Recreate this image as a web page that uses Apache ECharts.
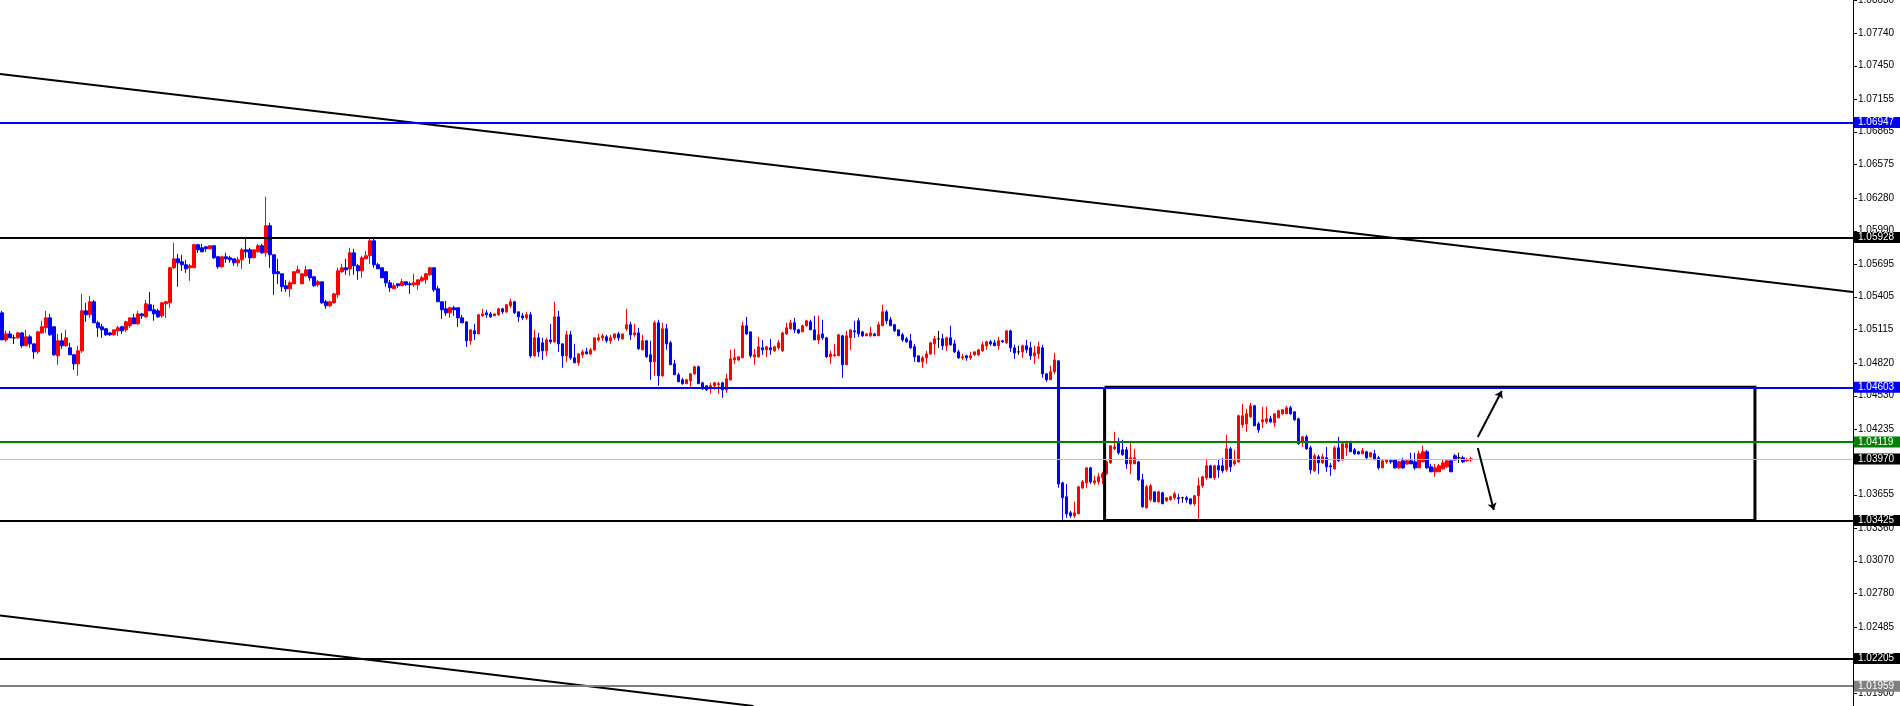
<!DOCTYPE html>
<html>
<head>
<meta charset="utf-8">
<script src="https://cdn.jsdelivr.net/npm/echarts@6/dist/echarts.min.js"></script>
<style>
html,body{margin:0;padding:0;background:#fff;}
#chart{width:1900px;height:706px;}
</style>
</head>
<body>
<div id="chart"></div>
<script>
// ---- candle data (oldest -> newest) ----
const opens = [
1.05262,1.05023,1.05076,1.05041,1.05041,1.05085,1.04971,1.05050,1.04988,1.04917,
1.05085,1.05130,1.05218,1.05139,1.04882,1.05015,1.04971,1.04953,1.04891,1.04811,
1.04926,1.05280,1.05245,1.05360,1.05174,1.05139,1.05121,1.05085,1.05068,1.05103,
1.05139,1.05112,1.05148,1.05218,1.05165,1.05253,1.05227,1.05334,1.05289,1.05280,
1.05236,1.05342,1.05351,1.05661,1.05740,1.05714,1.05688,1.05661,1.05661,1.05865,
1.05838,1.05847,1.05829,1.05856,1.05758,1.05670,1.05758,1.05749,1.05740,1.05705,
1.05731,1.05820,1.05820,1.05749,1.05802,1.05856,1.05793,1.06033,1.05776,1.05626,
1.05608,1.05502,1.05475,1.05519,1.05616,1.05519,1.05590,1.05643,1.05581,1.05511,
1.05537,1.05360,1.05325,1.05351,1.05422,1.05626,1.05661,1.05652,1.05793,1.05679,
1.05634,1.05740,1.05767,1.05900,1.05688,1.05661,1.05626,1.05528,1.05475,1.05519,
1.05502,1.05537,1.05519,1.05511,1.05511,1.05546,1.05554,1.05599,1.05661,1.05475,
1.05360,1.05298,1.05262,1.05307,1.05307,1.05218,1.05183,1.05015,1.05103,1.05076,
1.05236,1.05262,1.05253,1.05236,1.05245,1.05298,1.05271,1.05325,1.05360,1.05271,
1.05236,1.05218,1.05245,1.04882,1.05041,1.04997,1.04926,1.05023,1.05006,1.05227,
1.04988,1.04882,1.05068,1.04864,1.04820,1.04891,1.04917,1.04899,1.04935,1.05023,
1.05041,1.05050,1.05015,1.05041,1.05076,1.05032,1.05121,1.05157,1.05068,1.05085,
1.04935,1.05015,1.04891,1.04829,1.05174,1.04706,1.05121,1.04997,1.04811,1.04714,
1.04670,1.04635,1.04661,1.04723,1.04785,1.04643,1.04617,1.04590,1.04617,1.04626,
1.04643,1.04581,1.04670,1.04846,1.04846,1.04864,1.05148,1.05094,1.04873,1.04873,
1.04953,1.04935,1.04953,1.04926,1.04953,
1.04926,1.05076,1.05121,1.05174,1.05112,1.05094,1.05148,1.05183,1.05112,1.05023,
1.05076,1.05041,1.04873,1.04882,1.04882,1.05059,1.04803,1.05041,1.05103,1.05192,
1.05094,1.05059,1.05059,1.05076,1.05059,1.05148,1.05271,1.05201,1.05157,1.05112,
1.05068,1.05032,1.05015,1.04962,1.04882,1.04829,1.04864,1.04899,1.04988,1.05032,
1.05032,1.04971,1.05041,1.04988,1.04917,1.04864,
1.04882,1.04864,1.04891,1.04891,1.04926,1.04971,1.05006,1.04997,1.04971,1.05015,
1.04997,1.05103,1.04953,1.04917,1.04917,1.04971,1.04953,1.04882,1.04899,1.04953,
1.04723,1.04670,1.04741,
1.04838,1.03758,1.03635,1.03493,1.03467,1.03484,1.03714,1.03758,1.03891,1.03758,1.03767,1.03803,1.03838,1.03935,
1.04059,1.04112,1.04050,1.04050,1.03926,1.03926,1.03944,1.03785,1.03538,1.03608,
1.03679,1.03591,1.03670,1.03600,1.03608,1.03626,1.03626,1.03626,1.03626,1.03617,
1.03573,1.03644,1.03732,1.03803,1.03909,1.03803,1.03909,1.03909,1.03874,1.04059,
1.03926,1.03944,1.04272,1.04280,1.04343,1.04440,1.04280,1.04298,1.04298,1.04325,
1.04289,1.04334,1.04369,1.04369,1.04422,1.04387,1.04325,1.04112,1.04165,1.04068,
1.03865,1.03989,1.03935,1.03980,1.03909,1.03882,1.04068,1.03962,1.04068,1.04121,
1.04050,1.04033,1.04015,1.04033,1.03989,1.04015,1.03980,1.03891,1.03944,1.03953,
1.03962,1.03891,1.03953,1.03926,1.03953,1.03944,1.03891,1.03944,1.04033,1.03900,
1.03856,1.03856,1.03882,1.03900,1.03953,1.03998,1.03980,1.03980,1.03953,1.03962
];
const closes = [
1.05023,1.05076,1.05041,1.05041,1.05085,1.04971,1.05050,1.04988,1.04917,1.05094,
1.05139,1.05218,1.05068,1.04891,1.05015,1.04971,1.05041,1.04891,1.04811,1.04926,
1.05280,1.05245,1.05360,1.05174,1.05130,1.05112,1.05068,1.05068,1.05112,1.05130,
1.05103,1.05183,1.05218,1.05165,1.05253,1.05236,1.05342,1.05280,1.05253,1.05227,
1.05351,1.05360,1.05661,1.05740,1.05705,1.05688,1.05652,1.05679,1.05865,1.05820,
1.05802,1.05829,1.05856,1.05749,1.05670,1.05758,1.05740,1.05731,1.05705,1.05731,
1.05820,1.05802,1.05749,1.05820,1.05856,1.05793,1.06033,1.05776,1.05608,1.05608,
1.05493,1.05475,1.05528,1.05626,1.05643,1.05608,1.05643,1.05572,1.05502,1.05537,
1.05351,1.05325,1.05360,1.05430,1.05634,1.05661,1.05643,1.05793,1.05679,1.05634,
1.05749,1.05767,1.05900,1.05688,1.05652,1.05572,1.05528,1.05484,1.05502,1.05502,
1.05537,1.05511,1.05511,1.05528,1.05554,1.05572,1.05608,1.05661,1.05466,1.05360,
1.05289,1.05262,1.05307,1.05289,1.05218,1.05174,1.05015,1.05112,1.05076,1.05245,
1.05253,1.05245,1.05227,1.05253,1.05298,1.05271,1.05334,1.05360,1.05262,1.05227,
1.05218,1.05245,1.04882,1.05041,1.04917,1.04926,1.05023,1.05006,1.05227,1.04988,
1.04882,1.05068,1.04864,1.04820,1.04899,1.04917,1.04899,1.04935,1.05041,1.05041,
1.05059,1.05015,1.05041,1.05076,1.05041,1.05076,1.05157,1.05068,1.05085,1.04944,
1.05015,1.04873,1.04829,1.05174,1.04706,1.05121,1.04988,1.04803,1.04714,1.04652,
1.04635,1.04670,1.04723,1.04785,1.04635,1.04590,1.04581,1.04617,1.04643,1.04635,
1.04581,1.04679,1.04855,1.04864,1.04873,1.05148,1.05076,1.04882,1.04891,1.04962,
1.04935,1.04962,1.04935,1.04962,1.04997,
1.05085,1.05130,1.05174,1.05112,1.05085,1.05148,1.05192,1.05112,1.05023,1.05068,
1.05041,1.04873,1.04899,1.04891,1.05068,1.04803,1.05059,1.05112,1.05094,1.05076,
1.05059,1.05076,1.05085,1.05059,1.05157,1.05271,1.05192,1.05148,1.05103,1.05059,
1.05023,1.05006,1.04953,1.04873,1.04829,1.04864,1.04899,1.04997,1.05032,1.05032,
1.04971,1.05041,1.04980,1.04917,1.04864,1.04873,
1.04864,1.04882,1.04917,1.04935,1.04980,1.05006,1.04988,1.04971,1.05015,1.05006,
1.05103,1.04953,1.04908,1.04917,1.04971,1.04935,1.04882,1.04908,1.04962,1.04723,
1.04670,1.04741,1.04846,
1.03749,1.03626,1.03484,1.03467,1.03493,1.03723,1.03767,1.03891,1.03767,1.03776,1.03812,1.03838,1.03944,1.04086,
1.04077,1.04024,1.04007,1.03926,1.03980,1.03980,1.03785,1.03547,1.03723,1.03732,
1.03591,1.03679,1.03573,1.03626,1.03635,1.03661,1.03617,1.03626,1.03608,1.03573,
1.03644,1.03732,1.03812,1.03909,1.03803,1.03909,1.03874,1.03865,1.04059,1.03900,
1.03953,1.04352,1.04352,1.04369,1.04440,1.04263,1.04227,1.04316,1.04325,1.04298,
1.04369,1.04396,1.04405,1.04422,1.04369,1.04316,1.04104,1.04165,1.04059,1.03874,
1.03998,1.03935,1.03989,1.03900,1.03900,1.04068,1.03953,1.04104,1.04104,1.04033,
1.04015,1.04015,1.04042,1.03980,1.04024,1.03962,1.03891,1.03953,1.03962,1.03944,
1.03891,1.03944,1.03891,1.03953,1.03926,1.03891,1.04015,1.04033,1.03891,1.03856,
1.03891,1.03909,1.03935,1.03953,1.03856,1.03962,1.03980,1.03944,1.03962,1.03971
];
const lows = [
1.05023,1.05006,1.05041,1.04988,1.05032,1.04953,1.04971,1.04953,1.04855,1.04899,
1.05076,1.05085,1.05059,1.04882,1.04803,1.04944,1.04962,1.04891,1.04758,1.04706,
1.04908,1.05183,1.05218,1.05174,1.05050,1.05041,1.05059,1.05059,1.05059,1.05059,
1.05076,1.05094,1.05130,1.05165,1.05157,1.05209,1.05218,1.05280,1.05192,1.05218,
1.05218,1.05218,1.05307,1.05652,1.05493,1.05634,1.05616,1.05546,1.05661,1.05793,
1.05802,1.05802,1.05829,1.05740,1.05652,1.05661,1.05705,1.05705,1.05679,1.05670,
1.05652,1.05749,1.05696,1.05749,1.05793,1.05784,1.05758,1.05661,1.05422,1.05519,
1.05448,1.05448,1.05404,1.05519,1.05616,1.05519,1.05581,1.05546,1.05493,1.05493,
1.05342,1.05298,1.05316,1.05342,1.05395,1.05616,1.05599,1.05590,1.05599,1.05554,
1.05572,1.05740,1.05696,1.05661,1.05652,1.05572,1.05493,1.05448,1.05475,1.05484,
1.05502,1.05502,1.05430,1.05493,1.05466,1.05537,1.05519,1.05590,1.05448,1.05360,
1.05209,1.05236,1.05218,1.05236,1.05139,1.05174,1.04962,1.04980,1.05023,1.05076,
1.05227,1.05218,1.05218,1.05236,1.05236,1.05253,1.05262,1.05307,1.05253,1.05183,
1.05201,1.05201,1.04864,1.04873,1.04873,1.04846,1.04882,1.04988,1.04997,1.04917,
1.04776,1.04829,1.04846,1.04820,1.04794,1.04864,1.04899,1.04891,1.04926,1.05006,
1.05015,1.04997,1.04988,1.05023,1.05015,1.05023,1.05103,1.05023,1.05050,1.04935,
1.04935,1.04864,1.04670,1.04706,1.04617,1.04697,1.04935,1.04803,1.04714,1.04652,
1.04626,1.04635,1.04608,1.04714,1.04635,1.04581,1.04573,1.04546,1.04581,1.04546,
1.04511,1.04555,1.04661,1.04811,1.04838,1.04864,1.05068,1.04864,1.04803,1.04864,
1.04891,1.04873,1.04891,1.04917,1.04935,
1.04917,1.05068,1.05112,1.05085,1.05076,1.05094,1.05139,1.05112,1.05023,1.04988,
1.05023,1.04864,1.04811,1.04873,1.04882,1.04688,1.04803,1.04935,1.05041,1.05050,
1.05050,1.05059,1.05050,1.05059,1.05059,1.05148,1.05165,1.05148,1.05094,1.05059,
1.05006,1.04997,1.04944,1.04829,1.04829,1.04776,1.04811,1.04891,1.04891,1.04953,
1.04935,1.04926,1.04971,1.04908,1.04855,1.04846,
1.04838,1.04846,1.04882,1.04882,1.04917,1.04935,1.04971,1.04971,1.04935,1.04997,
1.04988,1.04917,1.04855,1.04891,1.04864,1.04908,1.04846,1.04811,1.04855,1.04688,
1.04652,1.04670,1.04723,
1.03714,1.03431,1.03449,1.03449,1.03449,1.03484,1.03705,1.03714,1.03749,1.03741,1.03741,1.03749,1.03829,1.03926,
1.04050,1.04007,1.03998,1.03882,1.03838,1.03926,1.03776,1.03538,1.03529,1.03591,
1.03591,1.03582,1.03573,1.03591,1.03600,1.03608,1.03573,1.03582,1.03582,1.03565,
1.03556,1.03440,1.03714,1.03785,1.03803,1.03785,1.03803,1.03847,1.03856,1.03856,
1.03909,1.03935,1.04245,1.04210,1.04334,1.04263,1.04201,1.04245,1.04280,1.04289,
1.04254,1.04334,1.04361,1.04369,1.04361,1.04307,1.04095,1.04077,1.04050,1.03838,
1.03856,1.03838,1.03926,1.03856,1.03821,1.03874,1.03944,1.03953,1.03998,1.04033,
1.04007,1.04007,1.04015,1.03971,1.03980,1.03962,1.03874,1.03891,1.03926,1.03926,
1.03882,1.03882,1.03882,1.03918,1.03926,1.03874,1.03891,1.03944,1.03882,1.03856,
1.03812,1.03856,1.03874,1.03891,1.03856,1.03953,1.03935,1.03935,1.03944,1.03944
];
const highs = [
1.05280,1.05103,1.05103,1.05068,1.05094,1.05094,1.05112,1.05068,1.04988,1.05103,
1.05192,1.05280,1.05253,1.05139,1.05076,1.05085,1.05112,1.04997,1.04899,1.04971,
1.05430,1.05351,1.05413,1.05377,1.05192,1.05165,1.05130,1.05094,1.05112,1.05148,
1.05148,1.05192,1.05218,1.05253,1.05280,1.05262,1.05377,1.05448,1.05334,1.05298,
1.05360,1.05369,1.05670,1.05882,1.05784,1.05776,1.05731,1.05696,1.05873,1.05873,
1.05873,1.05847,1.05856,1.05856,1.05767,1.05767,1.05793,1.05767,1.05740,1.05758,
1.05838,1.05926,1.05838,1.05820,1.05873,1.05873,1.06289,1.06059,1.05776,1.05740,
1.05608,1.05554,1.05546,1.05626,1.05679,1.05616,1.05679,1.05643,1.05590,1.05554,
1.05537,1.05377,1.05369,1.05439,1.05661,1.05696,1.05740,1.05838,1.05829,1.05696,
1.05767,1.05811,1.05918,1.05918,1.05705,1.05661,1.05634,1.05554,1.05528,1.05519,
1.05563,1.05537,1.05537,1.05608,1.05554,1.05590,1.05616,1.05670,1.05661,1.05502,
1.05360,1.05369,1.05316,1.05325,1.05307,1.05245,1.05183,1.05112,1.05165,1.05253,
1.05298,1.05289,1.05271,1.05253,1.05307,1.05307,1.05342,1.05386,1.05369,1.05271,
1.05262,1.05271,1.05271,1.05112,1.05085,1.05041,1.05041,1.05165,1.05360,1.05280,
1.04988,1.05103,1.05103,1.04988,1.04908,1.04935,1.04953,1.04953,1.05041,1.05076,
1.05076,1.05068,1.05068,1.05076,1.05094,1.05076,1.05298,1.05183,1.05165,1.05130,
1.05068,1.05023,1.05015,1.05192,1.05201,1.05174,1.05165,1.05015,1.04846,1.04732,
1.04688,1.04679,1.04723,1.04794,1.04794,1.04652,1.04617,1.04643,1.04652,1.04652,
1.04652,1.04723,1.04935,1.04944,1.04873,1.05183,1.05227,1.05094,1.04944,1.05050,
1.05023,1.04971,1.05032,1.04971,1.05023,
1.05094,1.05174,1.05201,1.05218,1.05121,1.05157,1.05201,1.05201,1.05236,1.05236,
1.05201,1.05050,1.04926,1.04988,1.05076,1.05068,1.05103,1.05112,1.05192,1.05218,
1.05103,1.05085,1.05139,1.05085,1.05183,1.05334,1.05289,1.05227,1.05165,1.05112,
1.05085,1.05050,1.05076,1.04988,1.04882,1.04882,1.04926,1.05006,1.05059,1.05103,
1.05076,1.05050,1.05148,1.05023,1.04935,1.04899,
1.04891,1.04917,1.04917,1.04944,1.05006,1.05015,1.05023,1.05023,1.05050,1.05023,
1.05112,1.05112,1.04980,1.04971,1.04980,1.05023,1.05006,1.04971,1.05006,1.04980,
1.04723,1.04794,1.04908,
1.04838,1.03767,1.03749,1.03511,1.03591,1.03732,1.03785,1.03891,1.03900,1.03821,1.03847,1.03856,1.03953,1.04086,
1.04210,1.04157,1.04139,1.04077,1.04130,1.04059,1.03953,1.03838,1.03741,1.03749,
1.03679,1.03688,1.03679,1.03626,1.03644,1.03679,1.03661,1.03635,1.03644,1.03617,
1.03652,1.03803,1.03821,1.03971,1.03918,1.03918,1.03962,1.03980,1.04183,1.04077,
1.04050,1.04361,1.04457,1.04413,1.04466,1.04449,1.04298,1.04431,1.04431,1.04352,
1.04369,1.04405,1.04405,1.04440,1.04440,1.04387,1.04334,1.04174,1.04183,1.04086,
1.04015,1.04007,1.04015,1.04077,1.03935,1.04086,1.04165,1.04121,1.04130,1.04130,
1.04068,1.04042,1.04068,1.04042,1.04033,1.04050,1.03998,1.03962,1.03962,1.03971,
1.03971,1.03953,1.03980,1.03962,1.04024,1.04024,1.04042,1.04086,1.04050,1.03926,
1.03926,1.03926,1.03962,1.03962,1.03962,1.04015,1.04024,1.03998,1.03980,1.03989
];

// price axis tick labels
const tickValues = [1.08030,1.07740,1.07450,1.07155,1.06865,1.06575,1.06280,1.05990,1.05695,
  1.05405,1.05115,1.04820,1.04530,1.04235,1.03945,1.03655,1.03360,1.03070,1.02780,
  1.02485,1.02195,1.01900];

// horizontal price levels
const levelValues = [1.06947, 1.05928, 1.04603, 1.04119, 1.03970, 1.03425, 1.02205, 1.01959];
// trend lines: [barPosition, price]
const trendTop = [[0, 1.07375], [463, 1.05447]];
const trendBottom = [[0, 1.02585], [188.25, 1.01784]];
// range box: bar positions and prices
const boxBars = [276, 438.5];
const boxPrices = [1.04603, 1.03425];
// scenario arrows: [[fromBar, fromPrice], [toBar, toPrice]]
const arrowUp = [[369.25, 1.04164], [375.25, 1.04571]];
const arrowDown = [[369.25, 1.04067], [373.25, 1.03518]];

// ---- styles (kept separate from data) ----
const levelLine = ['#0000ff', '#000000', '#0000ff', '#008000', '#c0c0c0', '#000000', '#000000', '#808080'];
const levelLabelBg = ['#0000ff', '#000000', '#0000ff', '#008000', '#000000', '#000000', '#000000', '#808080'];
const levelWidth = [2, 2, 2, 2, 1, 2, 2, 2];

const slotCount = 463;
const categories = Array.from({length: slotCount}, (_, i) => String(i + 1));
const candles = opens.map((o, i) => [o, closes[i], lows[i], highs[i]]);

const FONT = 'Liberation Sans, Arial, sans-serif';

const chart = echarts.init(document.getElementById('chart'), null, {renderer: 'canvas'});
const option = {
  animation: false,
  backgroundColor: '#ffffff',
  grid: {left: 0, right: 47, top: 0, bottom: 0, containLabel: false, outerBoundsMode: 'none'},
  xAxis: [
    {type: 'category', data: categories, boundaryGap: true, show: false},
    {type: 'value', min: 0, max: slotCount, show: false}
  ],
  yAxis: {
    type: 'value', position: 'right', min: 1.01784, max: 1.0803,
    splitLine: {show: false},
    axisLine: {show: true, onZero: false, lineStyle: {color: '#000', width: 1}},
    axisTick: {show: false},
    axisLabel: {customValues: tickValues, formatter: v => v.toFixed(5), color: '#000',
      fontSize: 10, fontFamily: FONT, margin: 5, showMinLabel: true, showMaxLabel: true,
      hideOverlap: false}
  },
  series: [
    {
      type: 'candlestick', xAxisIndex: 0, yAxisIndex: 0, data: candles, barWidth: 3,
      itemStyle: {color: '#ff0000', color0: '#0000ff', borderColor: '#ff0000', borderColor0: '#0000ff',
        borderColorDoji: '#000000', borderWidth: 1},
      markLine: {
        silent: true, symbol: 'none', animation: false, precision: 5,
        data: levelValues.map((v, i) => ({
          yAxis: v,
          lineStyle: {color: levelLine[i], width: levelWidth[i], type: 'solid'},
          label: {show: true, position: 'end', distance: 1, formatter: v.toFixed(5),
            color: '#ffffff', backgroundColor: levelLabelBg[i], fontSize: 10, fontFamily: FONT,
            padding: [1, 8, 0, 4], lineHeight: 10}
        }))
      }
    },
    {
      type: 'line', xAxisIndex: 1, yAxisIndex: 0, data: trendTop, symbol: 'none', silent: true,
      lineStyle: {color: '#000', width: 2}
    },
    {
      type: 'line', xAxisIndex: 1, yAxisIndex: 0, data: trendBottom, symbol: 'none', silent: true,
      lineStyle: {color: '#000', width: 2}
    },
    {
      type: 'line', xAxisIndex: 1, yAxisIndex: 0, symbol: 'none', silent: true,
      data: [[boxBars[0], boxPrices[0]], [boxBars[1], boxPrices[0]], [boxBars[1], boxPrices[1]],
             [boxBars[0], boxPrices[1]], [boxBars[0], boxPrices[0]]],
      lineStyle: {color: '#000', width: 3, join: 'miter'},
      markLine: {
        silent: true, animation: false, symbol: ['none', 'arrow'], symbolSize: 7,
        lineStyle: {color: '#000', width: 2, type: 'solid'}, label: {show: false},
        data: [
          [{coord: arrowUp[0]}, {coord: arrowUp[1]}],
          [{coord: arrowDown[0]}, {coord: arrowDown[1]}]
        ]
      }
    },
    {
      // price-axis tick marks, placed through the axes' own scales
      type: 'custom', xAxisIndex: 1, yAxisIndex: 0, clip: false, silent: true, z: 1,
      data: tickValues.map(v => [slotCount, v]),
      renderItem: (params, api) => {
        const p = api.coord([api.value(0), api.value(1)]);
        return {type: 'line', shape: {x1: p[0] + 1, y1: Math.round(p[1]) + 0.5, x2: p[0] + 4, y2: Math.round(p[1]) + 0.5},
          style: {stroke: '#000', lineWidth: 1}};
      }
    }
  ]
};
chart.setOption(option);
</script>
</body>
</html>
